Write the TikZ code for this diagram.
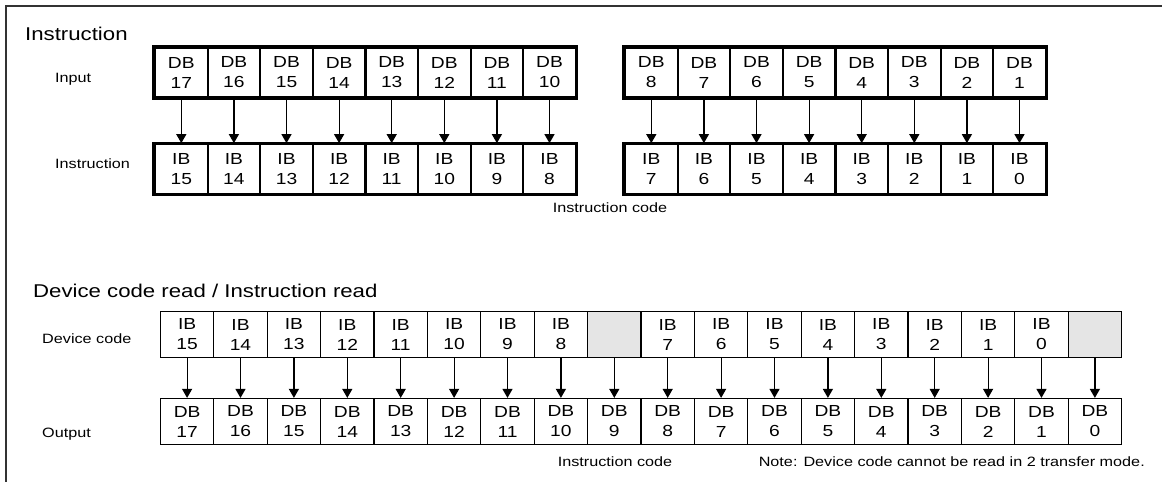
\documentclass[tikz,border=0pt]{standalone}
\usepackage{fontspec}
\setmainfont{Liberation Sans}[FakeStretch=1.2]
\usetikzlibrary{arrows.meta}

\tikzset{
  bitbox/.style={draw, minimum width=52.6pt, minimum height=49.5pt, inner sep=0pt,
    align=center, font=\fontsize{16}{20}\selectfont, line width=2.2pt},
  bitcell/.style={draw, minimum width=53.4pt, minimum height=46pt, inner sep=0pt,
    align=center, font=\fontsize{16}{20}\selectfont, line width=1.2pt},
  blankcell/.style={bitcell, fill=gray!20},
  rowlabel/.style={anchor=base west, inner sep=0pt, font=\fontsize{13.5}{15}\selectfont},
  heading/.style={anchor=base west, inner sep=0pt, font=\fontsize{18.5}{20}\selectfont},
  bitarrow/.style={-{Triangle[length=9pt,width=10pt]}, line width=1.2pt},
}

\begin{document}
\begin{tikzpicture}[x=1pt,y=-1pt]
    \useasboundingbox (0,0) rectangle (1162,482);
    \draw[line width=1.8pt, color=black!80] (1162,6) -- (6,6) -- (6,482);

    % instruction write
    \node[heading] (title1) at (25,40) {Instruction};
    \node[rowlabel] (lblin) at (55,82) {Input};
    \node[rowlabel] (lblins) at (55,168) {Instruction};

    \foreach \d/\b [count=\i from 0] in {17/15,16/14,15/13,14/12,13/11,12/10,11/9,10/8}{
        \node[bitbox] (in\d) at (181.3+52.6*\i,72.5) {DB\\\d};
        \node[bitbox] (ins\b) at (181.3+52.6*\i,169) {IB\\\b};
        \draw[bitarrow] (in\d) -- (ins\b);
    }
    \foreach \d/\b [count=\i from 0] in {8/7,7/6,6/5,5/4,4/3,3/2,2/1,1/0}{
        \node[bitbox] (in\d) at (651.3+52.6*\i,72.5) {DB\\\d};
        \node[bitbox] (ins\b) at (651.3+52.6*\i,169) {IB\\\b};
        \draw[bitarrow] (in\d) -- (ins\b);
    }
    \draw[line width=3pt] (in17.north west) rectangle (in10.south east);
    \draw[line width=3pt] (in8.north west) rectangle (in1.south east);
    \draw[line width=3pt] (ins15.north west) rectangle (ins8.south east);
    \draw[line width=3pt] (ins7.north west) rectangle (ins0.south east);
    \node[rowlabel, anchor=base] (code1) at (610,212) {Instruction code};

    % device code read
    \node[heading] (title2) at (33,297) {Device code read / Instruction read};
    \node[rowlabel] (lbldev) at (42,343) {Device code};
    \node[rowlabel] (lblout) at (42,437) {Output};

    \foreach \b [count=\i from 0] in {15,...,8}
        \node[bitcell] (dc\i) at (187.1+53.4*\i,334.5) {IB\\\b};
    \foreach \b [count=\i from 9] in {7,...,0}
        \node[bitcell] (dc\i) at (187.1+53.4*\i,334.5) {IB\\\b};
    \node[blankcell] (dc8) at (187.1+53.4*8,334.5) {};
    \node[blankcell] (dc17) at (187.1+53.4*17,334.5) {};

    \foreach \i in {0,...,17}{
        \pgfmathtruncatemacro\d{17-\i}
        \node[bitcell] (out\i) at (187.1+53.4*\i,421.5) {DB\\\d};
        \draw[bitarrow] (dc\i) -- (out\i);
    }
    \node[rowlabel, anchor=base] (code2) at (615,466) {Instruction code};
    \node[rowlabel, anchor=base east] (note) at (1145,466) {Note: Device code cannot be read in 2 transfer mode.};
\end{tikzpicture}
\end{document}
